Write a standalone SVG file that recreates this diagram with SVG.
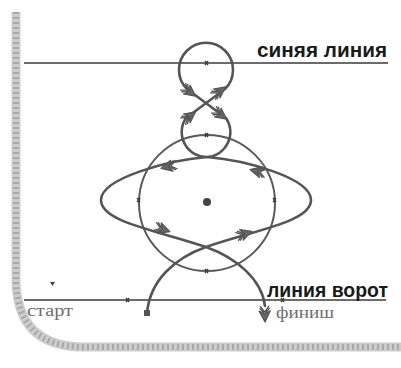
<svg xmlns="http://www.w3.org/2000/svg" width="401" height="368" viewBox="0 0 401 368">
<style>
.route{fill:none;stroke:#555;stroke-width:2.6;stroke-linecap:round;stroke-linejoin:round}
.circ{fill:none;stroke:#5a5a5a;stroke-width:2}
.hline{stroke:#3a3a3a;stroke-width:1.6}
.tick{stroke:#3a3a3a;stroke-width:1.3;fill:none}
.lbl{font-family:"Liberation Sans",Arial,sans-serif;font-weight:bold;fill:#1a1a1a}
.ser{font-family:"Liberation Serif","Times New Roman",serif;fill:#6e6e6e}
.arr{fill:#666;stroke:#555;stroke-width:1.3;stroke-linejoin:round}
</style>
<defs>
<g id="arr"><path d="M2,0 L-9,-5.5 L-6,0 L-9,5.5 Z"/><path d="M-6,0 L-12,-5 M-8,0 L-14,-4.5 M-6,0 L-12,5 M-8,0 L-14,4.5" fill="none"/></g>
</defs>
<g id="border" fill="none">
<path d="M16,12 V282 Q18,346 82,347 H401" stroke="#cdcdcd" stroke-width="9"/>
<path d="M16,12 V282 Q18,346 82,347 H401" stroke="#a9a9a9" stroke-width="6" stroke-dasharray="2 3"/>
</g>
<g id="blue-line">
<line class="hline" x1="24" y1="63" x2="388" y2="63"/>
<path class="tick" d="M205,61 l3,4 M208,61 l-3,4"/>
<text class="lbl" x="257" y="57" font-size="21" textLength="130" lengthAdjust="spacingAndGlyphs">синяя линия</text>
</g>
<g id="gate-line">
<line class="hline" x1="24" y1="300" x2="386" y2="300"/>
<path class="tick" d="M126,298 l3,4 M129,298 l-3,4"/>
<path class="tick" d="M281,298 l3,4 M284,298 l-3,4"/>
<path d="M50,282 h5 l-2.5,4 z" fill="#444"/>
<text class="lbl" x="267" y="297" font-size="20" textLength="121" lengthAdjust="spacingAndGlyphs">линия ворот</text>
<text class="ser" x="27" y="316" font-size="16" textLength="46" lengthAdjust="spacingAndGlyphs">старт</text>
<text class="ser" x="276" y="318" font-size="16" textLength="58" lengthAdjust="spacingAndGlyphs">финиш</text>
</g>
<g id="big-circle">
<circle class="circ" cx="207" cy="203" r="68"/>
<path class="tick" d="M205,133 l3,4 M208,133 l-3,4 M137,198 l3,4 M140,198 l-3,4 M273,198 l3,4 M276,198 l-3,4 M205,269 l3,4 M208,269 l-3,4"/>
<circle cx="207" cy="202" r="4" fill="#444"/>
</g>
<g id="connectors">
<path class="route" d="M147,313 C150,280 175,258 206,247 C255,230 311,222 311,200 C311,178 245,160 207,157 A25,25 0 0 1 186,118 L225,89 A27,27 0 1 0 187,89 L226,118 A25,25 0 0 1 207,157 C170,160 101,178 101,200 C101,222 156,230 206,247 C237,258 262,280 265,306"/>
<rect x="144" y="310" width="6" height="6" fill="#555"/>
<g class="arr">
<use href="#arr" transform="translate(265,320) rotate(88)"/>
<use href="#arr" transform="translate(250,232) rotate(-19)"/>
<use href="#arr" transform="translate(252,170) rotate(-166)"/>
<use href="#arr" transform="translate(194,113) rotate(-37)"/>
<use href="#arr" transform="translate(224,88) rotate(-37)"/>
<use href="#arr" transform="translate(194,95) rotate(37)"/>
<use href="#arr" transform="translate(225,118) rotate(37)"/>
<use href="#arr" transform="translate(163,168) rotate(166)"/>
<use href="#arr" transform="translate(168,231) rotate(19)"/>
</g>
</g>
</svg>
